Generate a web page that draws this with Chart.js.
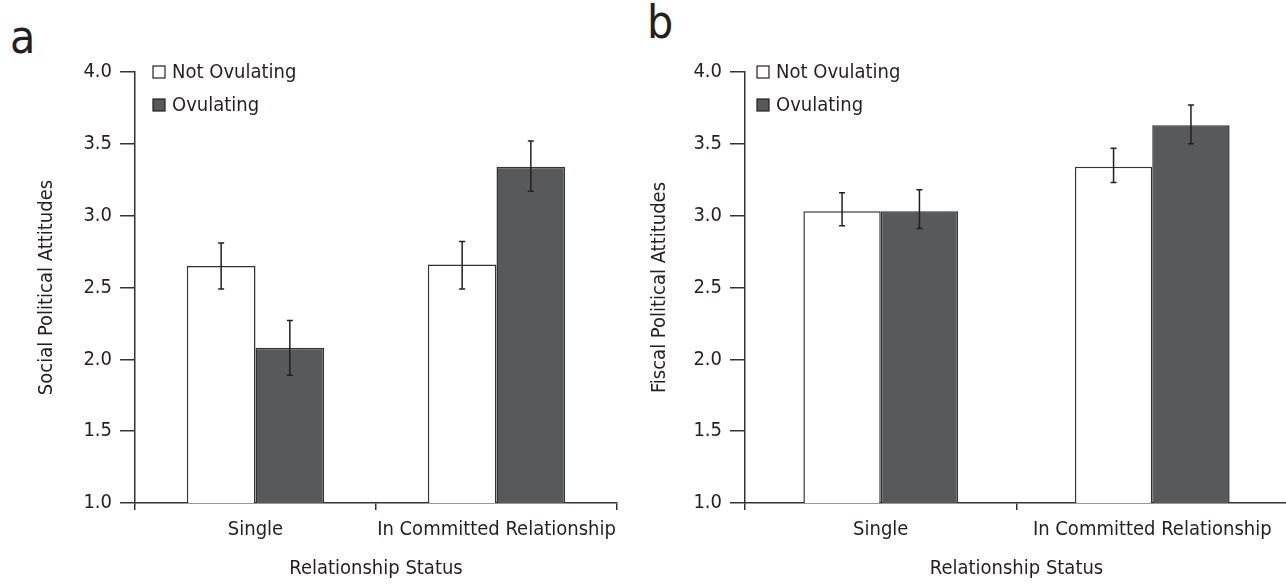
<!DOCTYPE html>
<html>
<head>
<meta charset="utf-8">
<script src="https://cdn.jsdelivr.net/npm/chart.js@4.4.0/dist/chart.umd.min.js"></script>
<style>
  body { margin: 0; width: 1286px; height: 584px; overflow: hidden; background: #fff; position: relative;
         font-family: 'Liberation Sans Narrow', 'DejaVu Sans Condensed', sans-serif; }
  canvas { position: absolute; top: 0; }
  #chartA { left: 0; }
  #chartB { left: 640px; }
  .tag { position: absolute; font-size: 46px; line-height: 46px; color: #231f20; }
</style>
</head>
<body>
<div class="tag" style="left:10px; top:14px;">a</div>
<div class="tag" style="left:647px; top:-1px;">b</div>
<canvas id="chartA" width="640" height="584"></canvas>
<canvas id="chartB" width="650" height="584"></canvas>
<script>
// data
const categories = ['Single', 'In Committed Relationship'];
const seriesNames = ['Not Ovulating', 'Ovulating'];
const yTicks = [1.0, 1.5, 2.0, 2.5, 3.0, 3.5, 4.0];

// panel a - social
const socialNotOv = [2.65, 2.66];
const socialNotOvLow = [2.49, 2.49];
const socialNotOvHigh = [2.81, 2.82];
const socialOv = [2.08, 3.34];
const socialOvLow = [1.89, 3.17];
const socialOvHigh = [2.27, 3.52];

// panel b - fiscal
const fiscalNotOv = [3.03, 3.34];
const fiscalNotOvLow = [2.93, 3.23];
const fiscalNotOvHigh = [3.16, 3.47];
const fiscalOv = [3.03, 3.63];
const fiscalOvLow = [2.91, 3.50];
const fiscalOvHigh = [3.18, 3.77];

const fontFamily = "'Liberation Sans Narrow', 'DejaVu Sans Condensed', sans-serif";
const fontSize = 20;
const textColor = '#231f20';
const lineColor = '#333333';
const darkFill = '#58595b';

// error bars drawn on top of bars
const errorBars = {
  id: 'errorBars',
  afterDatasetsDraw(chart) {
    const ctx = chart.ctx;
    const y = chart.scales.y;
    chart.data.datasets.forEach((ds, i) => {
      const meta = chart.getDatasetMeta(i);
      meta.data.forEach((bar, j) => {
        const top = y.getPixelForValue(ds.errHigh[j]);
        const bottom = y.getPixelForValue(ds.errLow[j]);
        ctx.save();
        ctx.strokeStyle = '#231f20';
        ctx.lineWidth = 1.5;
        ctx.beginPath();
        ctx.moveTo(bar.x, top); ctx.lineTo(bar.x, bottom);
        ctx.moveTo(bar.x - 3, top); ctx.lineTo(bar.x + 3, top);
        ctx.moveTo(bar.x - 3, bottom); ctx.lineTo(bar.x + 3, bottom);
        ctx.stroke();
        ctx.restore();
      });
    });
  }
};

// little legend in the top-left of the plot
const legendBoxes = {
  id: 'legendBoxes',
  afterDraw(chart, args, opts) {
    const ctx = chart.ctx;
    const x0 = chart.chartArea.left + opts.offsetX;
    chart.data.datasets.forEach((ds, i) => {
      const y0 = 66 + i * 33;
      ctx.save();
      ctx.fillStyle = ds.backgroundColor;
      ctx.fillRect(x0, y0, 12, 12);
      ctx.strokeStyle = textColor;
      ctx.lineWidth = 1.2;
      ctx.strokeRect(x0, y0, 12, 12);
      ctx.fillStyle = textColor;
      ctx.font = fontSize + 'px ' + fontFamily;
      ctx.textBaseline = 'middle';
      ctx.fillText(ds.label, x0 + 19, y0 + 7);
      ctx.restore();
    });
  }
};

function makePanel(id, yTitle, notOv, notOvLow, notOvHigh, ov, ovLow, ovHigh, yWidth, rightPad, legendX, titlePad) {
  new Chart(document.getElementById(id), {
    type: 'bar',
    data: {
      labels: categories,
      datasets: [
        { label: seriesNames[0], data: notOv, errLow: notOvLow, errHigh: notOvHigh,
          backgroundColor: '#ffffff', borderColor: lineColor, borderWidth: 1.5 },
        { label: seriesNames[1], data: ov, errLow: ovLow, errHigh: ovHigh,
          backgroundColor: darkFill, borderColor: lineColor, borderWidth: 1.5 },
      ],
    },
    options: {
      responsive: false,
      animation: false,
      layout: { padding: { top: 72, right: rightPad, left: 0, bottom: 0 } },
      datasets: { bar: { categoryPercentage: 0.57, barPercentage: 1 } },
      plugins: {
        legend: { display: false },
        tooltip: { enabled: false },
        legendBoxes: { offsetX: legendX },
      },
      scales: {
        x: {
          grid: { offset: true, drawOnChartArea: false, tickLength: 7, color: lineColor, lineWidth: 1.5 },
          border: { color: lineColor, width: 1.5 },
          ticks: { color: textColor, font: { size: fontSize, family: fontFamily }, padding: 8,
                   maxRotation: 0, autoSkip: false },
          title: { display: true, text: 'Relationship Status', color: textColor,
                   font: { size: fontSize, family: fontFamily }, padding: { top: 0, bottom: 3 } },
          afterFit: (s) => { s.height = 81; },
        },
        y: {
          min: yTicks[0],
          max: yTicks[yTicks.length - 1],
          afterBuildTicks: (s) => { s.ticks = yTicks.map(v => ({ value: v })); },
          grid: { drawOnChartArea: false, tickLength: 15, color: lineColor, lineWidth: 1.5 },
          border: { color: lineColor, width: 1.5 },
          ticks: { color: textColor, font: { size: fontSize, family: fontFamily }, padding: 8,
                   callback: (v) => Number(v).toFixed(1) },
          title: { display: true, text: yTitle, color: textColor,
                   font: { size: fontSize, family: fontFamily }, padding: { top: titlePad, bottom: 0 } },
          afterFit: (s) => { s.width = yWidth; },
        },
      },
    },
    plugins: [errorBars, legendBoxes],
  });
}

makePanel('chartA', 'Social Political Attitudes',
  socialNotOv, socialNotOvLow, socialNotOvHigh, socialOv, socialOvLow, socialOvHigh, 135, 23, 18, 35);
makePanel('chartB', 'Fiscal Political Attitudes',
  fiscalNotOv, fiscalNotOvLow, fiscalNotOvHigh, fiscalOv, fiscalOvLow, fiscalOvHigh, 105, 2, 12, 8);
</script>
</body>
</html>
